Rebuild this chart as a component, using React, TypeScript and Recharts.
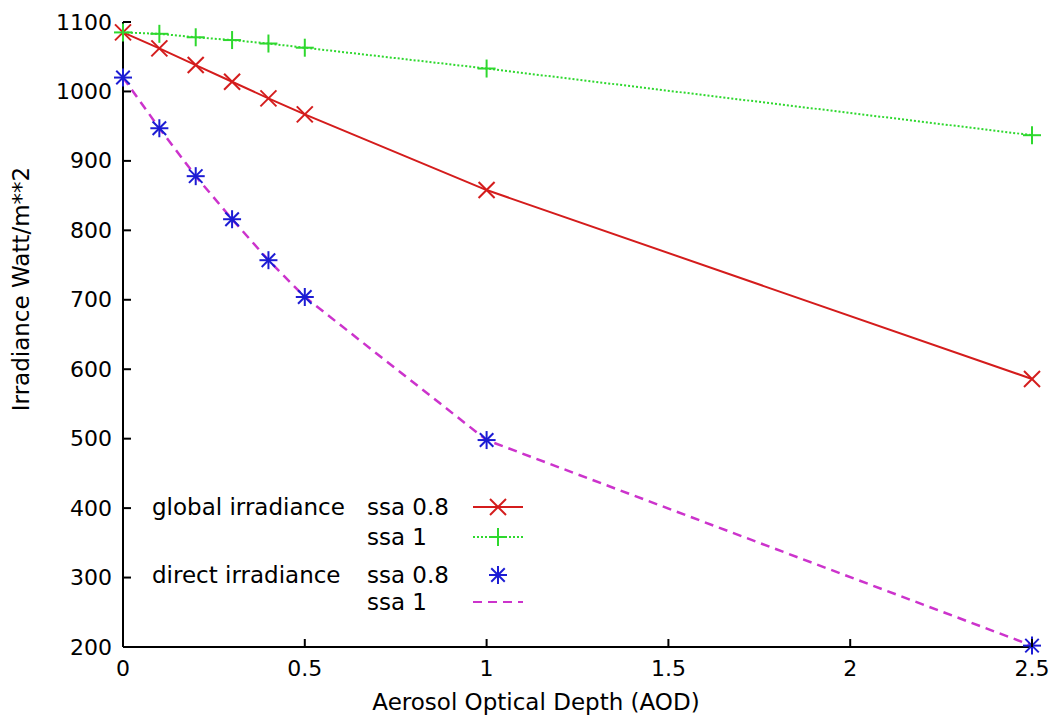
import React from 'react'
import { LineChart, Line, XAxis, YAxis, Legend, Label } from 'recharts'

const aod = [0, 0.1, 0.2, 0.3, 0.4, 0.5, 1, 2.5]
const globalSsa08 = [1085, 1062, 1038, 1014, 990, 967, 858, 586]
const globalSsa1 = [1085, 1083, 1078, 1074, 1069, 1063, 1033, 937]
const directSsa08 = [1020, 947, 878, 816, 757, 704, 498, 202]
const directSsa1 = [1020, 947, 878, 816, 757, 704, 498, 202]

const xTicks = [0, 0.5, 1, 1.5, 2, 2.5]
const yTicks = [200, 300, 400, 500, 600, 700, 800, 900, 1000, 1100]

const data = aod.map((a, i) => ({
  aod: a,
  g08: globalSsa08[i],
  g1: globalSsa1[i],
  d08: directSsa08[i],
  d1: directSsa1[i],
}))

const RED = '#d41c1c'
const GREEN = '#2ed82e'
const BLUE = '#1c1cd4'
const MAGENTA = '#cc33cc'
const FONT = '"DejaVu Sans", "Liberation Sans", Arial, sans-serif'
const TICK = 8

// gnuplot style point markers
const cross = (cx: number, cy: number, c: string, r = 8) => (
  <g stroke={c} strokeWidth={2}>
    <line x1={cx - r} y1={cy - r} x2={cx + r} y2={cy + r} />
    <line x1={cx - r} y1={cy + r} x2={cx + r} y2={cy - r} />
  </g>
)
const plus = (cx: number, cy: number, c: string, r = 9) => (
  <g stroke={c} strokeWidth={2}>
    <line x1={cx - r} y1={cy} x2={cx + r} y2={cy} />
    <line x1={cx} y1={cy - r} x2={cx} y2={cy + r} />
  </g>
)
const star = (cx: number, cy: number, c: string, r = 9) => (
  <g stroke={c} strokeWidth={2}>
    <line x1={cx - r} y1={cy} x2={cx + r} y2={cy} />
    <line x1={cx} y1={cy - r} x2={cx} y2={cy + r} />
    <line x1={cx - r * 0.75} y1={cy - r * 0.75} x2={cx + r * 0.75} y2={cy + r * 0.75} />
    <line x1={cx - r * 0.75} y1={cy + r * 0.75} x2={cx + r * 0.75} y2={cy - r * 0.75} />
  </g>
)

const BottomTick = (p: any) => (
  <g>
    <line x1={p.x} y1={p.y} x2={p.x} y2={p.y - TICK} stroke="#000" strokeWidth={2} />
    <text x={p.x} y={p.y + 21} textAnchor="middle" dominantBaseline="central" fontSize={22} fill="#000" fontFamily={FONT}>
      {p.payload.value}
    </text>
  </g>
)
const TopTick = (p: any) => (
  <line x1={p.x} y1={p.y} x2={p.x} y2={p.y + TICK} stroke="#000" strokeWidth={2} />
)
const LeftTick = (p: any) => (
  <g>
    <line x1={p.x} y1={p.y} x2={p.x + TICK} y2={p.y} stroke="#000" strokeWidth={2} />
    <text x={p.x - 11} y={p.y} textAnchor="end" dominantBaseline="central" fontSize={22} fill="#000" fontFamily={FONT}>
      {p.payload.value}
    </text>
  </g>
)
const RightTick = (p: any) => (
  <line x1={p.x} y1={p.y} x2={p.x - TICK} y2={p.y} stroke="#000" strokeWidth={2} />
)

const legendRows = [
  { group: 'global irradiance', label: 'ssa 0.8', y: 507, color: RED, dash: undefined as string | undefined, line: true, mark: cross },
  { group: '', label: 'ssa 1', y: 537, color: GREEN, dash: '2 2', line: true, mark: plus },
  { group: 'direct irradiance', label: 'ssa 0.8', y: 575, color: BLUE, dash: undefined, line: false, mark: star },
  { group: '', label: 'ssa 1', y: 602, color: MAGENTA, dash: '9 6', line: true, mark: null as any },
]

const LegendBox = () => (
  <div style={{ position: 'relative', width: 1056, height: 722, fontFamily: FONT, fontSize: 23, color: '#000' }}>
    {legendRows.map((r, i) => (
      <React.Fragment key={i}>
        {r.group && (
          <div style={{ position: 'absolute', left: 152, top: r.y - 13, lineHeight: '26px', whiteSpace: 'nowrap' }}>{r.group}</div>
        )}
        <div style={{ position: 'absolute', left: 367, top: r.y - 13, lineHeight: '26px', whiteSpace: 'nowrap' }}>{r.label}</div>
        <svg style={{ position: 'absolute', left: 466, top: r.y - 13 }} width={64} height={26}>
          {r.line && <line x1={7} y1={13} x2={57} y2={13} stroke={r.color} strokeWidth={2} strokeDasharray={r.dash} />}
          {r.mark && r.mark(32, 13, r.color)}
        </svg>
      </React.Fragment>
    ))}
  </div>
)

export default function App() {
  return (
    <div style={{ position: 'absolute', left: 0, top: 0, width: 1056, height: 722, background: '#fff', fontFamily: FONT }}>
      <LineChart width={1056} height={722} data={data} margin={{ top: 22, right: 24, left: 0, bottom: 0 }}>
        <XAxis
          xAxisId="bottom"
          dataKey="aod"
          type="number"
          domain={[0, 2.5]}
          ticks={xTicks}
          interval={0}
          height={75}
          tickSize={0}
          tickMargin={0}
          tickLine={false}
          axisLine={{ stroke: '#000', strokeWidth: 2 }}
          tick={<BottomTick />}
        >
          <Label
            content={() => (
              <text x={536} y={702} textAnchor="middle" dominantBaseline="central" fontSize={23} fill="#000" fontFamily={FONT}>
                Aerosol Optical Depth (AOD)
              </text>
            )}
          />
        </XAxis>
        <XAxis
          xAxisId="top"
          orientation="top"
          dataKey="aod"
          type="number"
          domain={[0, 2.5]}
          ticks={xTicks}
          interval={0}
          height={0}
          tickSize={0}
          tickMargin={0}
          tickLine={false}
          axisLine={{ stroke: '#000', strokeWidth: 2 }}
          tick={<TopTick />}
        />
        <YAxis
          yAxisId="left"
          type="number"
          domain={[200, 1100]}
          ticks={yTicks}
          interval={0}
          width={123}
          tickSize={0}
          tickMargin={0}
          tickLine={false}
          axisLine={{ stroke: '#000', strokeWidth: 2 }}
          tick={<LeftTick />}
        >
          <Label
            content={() => (
              <text
                x={21}
                y={289}
                transform="rotate(-90, 21, 289)"
                textAnchor="middle"
                dominantBaseline="central"
                fontSize={23}
                fill="#000"
                fontFamily={FONT}
              >
                Irradiance Watt/m**2
              </text>
            )}
          />
        </YAxis>
        <YAxis
          yAxisId="right"
          orientation="right"
          type="number"
          domain={[200, 1100]}
          ticks={yTicks}
          interval={0}
          width={0}
          tickSize={0}
          tickMargin={0}
          tickLine={false}
          axisLine={{ stroke: '#000', strokeWidth: 2 }}
          tick={<RightTick />}
        />
        <Legend
          layout="horizontal"
          align="center"
          verticalAlign="middle"
          wrapperStyle={{ left: 0, top: 0, width: 1056, height: 722, pointerEvents: 'none' }}
          content={<LegendBox />}
        />
        <Line
          xAxisId="bottom"
          yAxisId="left"
          dataKey="g08"
          stroke={RED}
          strokeWidth={2}
          type="linear"
          isAnimationActive={false}
          dot={(p: any) => <g key={`r${p.index}`}>{cross(p.cx, p.cy, RED)}</g>}
        />
        <Line
          xAxisId="bottom"
          yAxisId="left"
          dataKey="g1"
          stroke={GREEN}
          strokeWidth={2}
          strokeDasharray="2 2"
          type="linear"
          isAnimationActive={false}
          dot={(p: any) => <g key={`g${p.index}`}>{plus(p.cx, p.cy, GREEN)}</g>}
        />
        <Line
          xAxisId="bottom"
          yAxisId="left"
          dataKey="d1"
          stroke={MAGENTA}
          strokeWidth={2.5}
          strokeDasharray="9 6"
          type="linear"
          isAnimationActive={false}
          dot={false}
        />
        <Line
          xAxisId="bottom"
          yAxisId="left"
          dataKey="d08"
          stroke="none"
          type="linear"
          isAnimationActive={false}
          dot={(p: any) => <g key={`b${p.index}`}>{star(p.cx, p.cy, BLUE)}</g>}
        />
      </LineChart>
    </div>
  )
}
